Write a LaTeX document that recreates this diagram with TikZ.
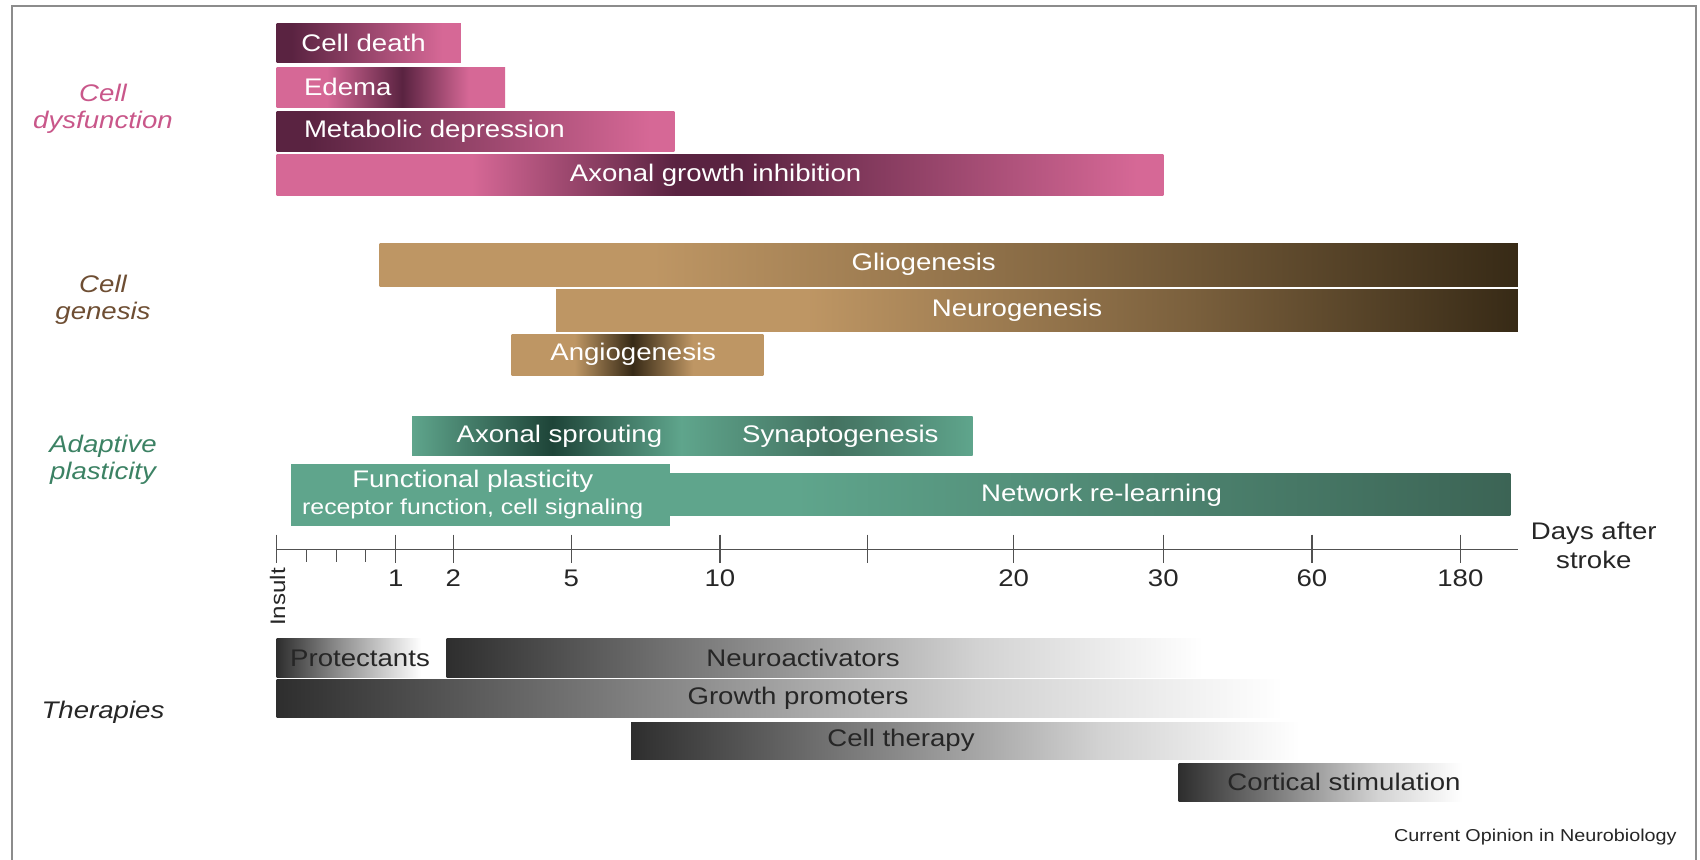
\documentclass[tikz,border=0pt]{standalone}
\usepackage{fontspec}
\setmainfont[FakeStretch=1.15]{Liberation Sans}
\definecolor{pinkL}{HTML}{D66896}
\definecolor{pinkD}{HTML}{5A2341}
\definecolor{pinkT}{HTML}{C9578A}
\definecolor{tanL}{HTML}{BE9664}
\definecolor{tanD}{HTML}{372A16}
\definecolor{tanT}{HTML}{6E4E33}
\definecolor{tealL}{HTML}{5FA58C}
\definecolor{tealD}{HTML}{1E4438}
\definecolor{tealM}{HTML}{3C6455}
\definecolor{tealT}{HTML}{3C8264}
\definecolor{grD}{HTML}{2E2E2E}
\definecolor{grM}{HTML}{8A8A8A}
\definecolor{grL}{HTML}{D2D2D2}
\definecolor{txtD}{HTML}{262626}
\definecolor{frameC}{HTML}{8C8C8C}
% horizontal shadings: the path box is mapped onto 25bp..75bp
\pgfdeclarehorizontalshading{cellDeathSh}{100bp}{color(0bp)=(pinkD); color(29bp)=(pinkD); color(70bp)=(pinkL); color(100bp)=(pinkL)}
\pgfdeclarehorizontalshading{edemaSh}{100bp}{color(0bp)=(pinkL); color(36bp)=(pinkL); color(52.5bp)=(pinkD); color(67bp)=(pinkL); color(100bp)=(pinkL)}
\pgfdeclarehorizontalshading{metabSh}{100bp}{color(0bp)=(pinkD); color(29bp)=(pinkD); color(72bp)=(pinkL); color(100bp)=(pinkL)}
\pgfdeclarehorizontalshading{axgrowSh}{100bp}{color(0bp)=(pinkL); color(36bp)=(pinkL); color(47.5bp)=(pinkD); color(51bp)=(pinkD); color(73.5bp)=(pinkL); color(100bp)=(pinkL)}
\pgfdeclarehorizontalshading{glioSh}{100bp}{color(0bp)=(tanL); color(37bp)=(tanL); color(56bp)=(tanL!55!tanD); color(75bp)=(tanD); color(100bp)=(tanD)}
\pgfdeclarehorizontalshading{neuroSh}{100bp}{color(0bp)=(tanL); color(38bp)=(tanL); color(58bp)=(tanL!50!tanD); color(75bp)=(tanD); color(100bp)=(tanD)}
\pgfdeclarehorizontalshading{angioSh}{100bp}{color(0bp)=(tanL); color(37.5bp)=(tanL); color(49bp)=(tanD); color(61bp)=(tanL); color(100bp)=(tanL)}
\pgfdeclarehorizontalshading{sproutSh}{100bp}{color(0bp)=(tealL); color(25bp)=(tealL); color(37.5bp)=(tealD); color(49bp)=(tealL); color(62.5bp)=(tealM!80!tealL); color(75bp)=(tealL); color(100bp)=(tealL)}
\pgfdeclarehorizontalshading{netSh}{100bp}{color(0bp)=(tealL); color(32.5bp)=(tealL); color(75bp)=(tealM); color(100bp)=(tealM)}
\pgfdeclarehorizontalshading{protSh}{100bp}{color(0bp)=(grD); color(25bp)=(grD); color(42.5bp)=(grM); color(67.5bp)=(white); color(100bp)=(white)}
\pgfdeclarehorizontalshading{theraSh}{100bp}{color(0bp)=(grD); color(25bp)=(grD); color(45bp)=(grM); color(60bp)=(grL); color(75bp)=(white); color(100bp)=(white)}
\tikzset{
  barlabel/.style={text=white, font=\fontsize{12}{14}\selectfont, inner sep=0pt},
  thlabel/.style={text=txtD, font=\fontsize{12}{14}\selectfont, inner sep=0pt},
  catlabel/.style={font=\itshape\fontsize{12}{13.5}\selectfont, align=center, inner sep=0pt},
  ticklabel/.style={text=txtD, font=\fontsize{12}{14}\selectfont, inner sep=0pt},
  axisline/.style={draw=txtD!80, line width=0.6pt},
}
\begin{document}
\begin{tikzpicture}[x=0.5pt, y=-0.5pt]
\useasboundingbox (0,0) rectangle (1700,860);
\fill[white] (0,0) rectangle (1700,860);
\draw[frameC, line width=0.8pt] (12,860) -- (12,6) -- (1696,6) -- (1696,860);

% ---- Cell dysfunction
\shade[shading=cellDeathSh] (276.5,23.9) rectangle (460.8,62.9);
\shade[shading=edemaSh] (276.5,67.2) rectangle (505.2,107.3);
\shade[shading=metabSh] (276.5,111.7) rectangle (674.4,151.8);
\shade[shading=axgrowSh] (276.5,154.5) rectangle (1163.3,195.2);
\node[barlabel, anchor=west] (celldeath) at (301,42.8) {Cell death};
\node[barlabel, anchor=west] (edema) at (303.6,87.2) {Edema};
\node[barlabel, anchor=west] (metab) at (303.6,131.7) {Metabolic depression};
\node[barlabel] (axgrow) at (715.6,175) {Axonal growth inhibition};
\node[catlabel, text=pinkT] (catdys) at (103,109) {Cell\\dysfunction};

% ---- Cell genesis
\shade[shading=glioSh] (379.5,243.9) rectangle (1517.9,286.2);
\shade[shading=neuroSh] (556.2,289.5) rectangle (1517.9,331.8);
\shade[shading=angioSh] (511.7,334.4) rectangle (763.3,375.1);
\node[barlabel] (glio) at (923.7,264.5) {Gliogenesis};
\node[barlabel] (neuro) at (1017,310) {Neurogenesis};
\node[barlabel] (angio) at (633.2,354.5) {Angiogenesis};
\node[catlabel, text=tanT] (catgen) at (103,300) {Cell\\genesis};

% ---- Adaptive plasticity
\shade[shading=sproutSh] (412,416.3) rectangle (972.5,455.4);
\fill[tealL] (290.6,464) rectangle (670,525.8);
\shade[shading=netSh] (670,473.8) rectangle (1510.3,515);
\node[barlabel] (sprout) at (559.4,435.9) {Axonal sprouting};
\node[barlabel] (synapto) at (840.3,435.9) {Synaptogenesis};
\node[barlabel] (funcpl) at (472.7,481.4) {Functional plasticity};
\node[barlabel, font=\fontsize{10.8}{12}\selectfont] (recept) at (472.7,508.5) {receptor function, cell signaling};
\node[barlabel] (network) at (1101.5,495.5) {Network re-learning};
\node[catlabel, text=tealT] (catada) at (103,460) {Adaptive\\plasticity};

% ---- Time axis
\draw[axisline] (276.5,549.7) -- (1517.9,549.7);
\foreach \tx in {276.5,395.7,453.2,571.4,719.9,867.4,1013.7,1163.3,1311.9,1460.4}
  \draw[axisline] (\tx,534.5) -- (\tx,562.7);
\foreach \tx in {306.8,336.1,365.4}
  \draw[axisline] (\tx,549.7) -- (\tx,562);
\node[ticklabel] (t1) at (395.7,578) {1};
\node[ticklabel] (t2) at (453.2,578) {2};
\node[ticklabel] (t5) at (571.4,578) {5};
\node[ticklabel] (t10) at (719.9,578) {10};
\node[ticklabel] (t20) at (1013.7,578) {20};
\node[ticklabel] (t30) at (1163.3,578) {30};
\node[ticklabel] (t60) at (1311.9,578) {60};
\node[ticklabel] (t180) at (1460.4,578) {180};
\node[ticklabel, font=\fontsize{10.5}{12}\selectfont, rotate=90] (insult) at (277.6,597) {Insult};
\node[ticklabel, align=center, font=\fontsize{12}{14.2}\selectfont] (days) at (1593.8,545.5) {Days after\\stroke};

% ---- Therapies
\shade[shading=protSh] (276.5,638.6) rectangle (446.7,677.6);
\shade[shading=theraSh] (446.7,638.6) rectangle (1203,677.6);
\shade[shading=theraSh] (276.5,679.8) rectangle (1283,717.7);
\shade[shading=theraSh] (631,722) rectangle (1300,759);
\shade[shading=theraSh] (1178.5,763.3) rectangle (1462,801.2);
\node[thlabel] (protect) at (360,658) {Protectants};
\node[thlabel] (neuroact) at (803,658) {Neuroactivators};
\node[thlabel] (growth) at (798,698.5) {Growth promoters};
\node[thlabel] (cellth) at (901,740.5) {Cell therapy};
\node[thlabel] (cortical) at (1344,782) {Cortical stimulation};
\node[catlabel, text=txtD] (catther) at (103,712.3) {Therapies};

\node[text=txtD, font=\fontsize{8.6}{10}\selectfont, anchor=east, inner sep=0pt] (source) at (1677,837) {Current Opinion in Neurobiology};
\end{tikzpicture}
\end{document}
